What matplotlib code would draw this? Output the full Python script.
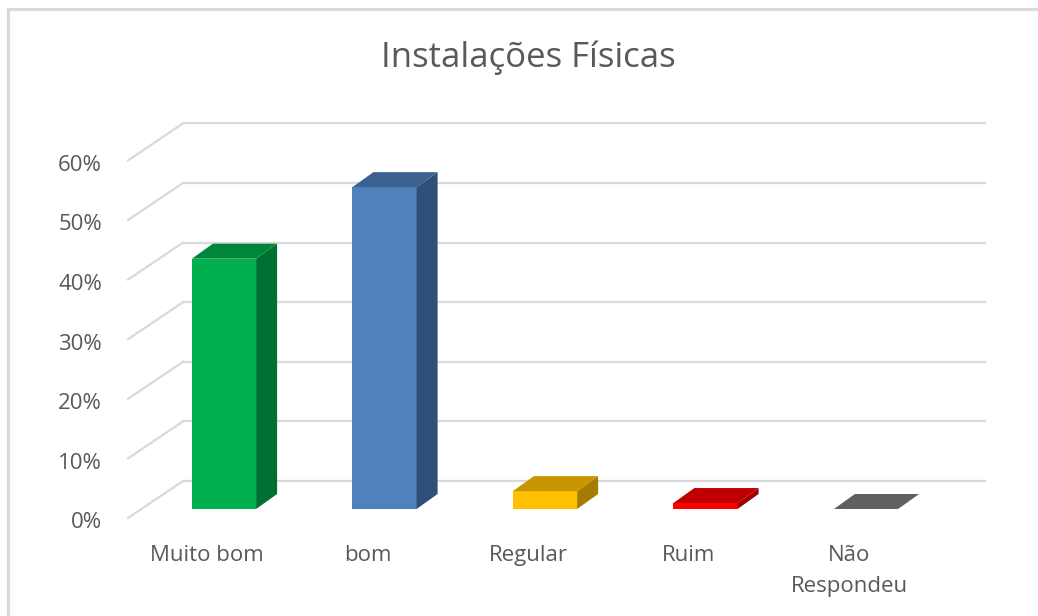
import matplotlib.pyplot as plt
from matplotlib.patches import Polygon, Rectangle
import numpy as np

categories = ["Muito bom", "bom", "Regular", "Ruim", "Não\nRespondeu"]
values = [0.42, 0.54, 0.03, 0.01, 0.0]
yticks = [0.0, 0.1, 0.2, 0.3, 0.4, 0.5, 0.6]
ytick_labels = ["0%", "10%", "20%", "30%", "40%", "50%", "60%"]
title = "Instalações Físicas"

front_cols = ["#00b050", "#4f81bd", "#ffc000", "#ff0000", "#606060"]
top_cols = ["#00853a", "#3b6190", "#c89600", "#c00000", "#606060"]
side_cols = ["#007032", "#2f4f78", "#a67c00", "#a00000", "#505050"]

W, H = 1038, 616
fig = plt.figure(figsize=(W / 100, H / 100), dpi=100)
ax = fig.add_axes([0, 0, 1, 1])
ax.axis("off")

# bar plane: x centre 0 at px 224, 160.5 px per category; y 0 at px 509 (from top), 596 px per 1.0
x0, xs = 224, 160.5
y0, ys = 509, 596
ax.set_xlim(-x0 / xs, (W - x0) / xs)
ax.set_ylim(-(H - y0) / ys, y0 / ys)
px = 1 / xs   # data units per pixel
py = 1 / ys

txt = "#595959"
grid = "#d9d9d9"

# chart border
fig.patches.append(Rectangle((8 / W, -0.1), 1.2, (H - 9) / H + 0.1, transform=fig.transFigure,
                             fill=False, edgecolor=grid, linewidth=2.2))

# walls: back offset (+42, up 28 px), front floor edge offset (-13, down 9 px)
wall_x = -0.517
back_dx, back_dy = 42 * px, 28 * py
front_dx, front_dy = -13 * px, -9 * py
x_end = 4.48
for v, lab in zip(yticks, ytick_labels):
    ax.plot([wall_x + back_dx, x_end + back_dx], [v + back_dy, v + back_dy], color=grid, lw=1.6, zorder=1)
    ax.plot([wall_x + front_dx, wall_x + back_dx], [v + front_dy, v + back_dy], color=grid, lw=1.6, zorder=1)
    ax.text(wall_x + front_dx - 26 * px, v + front_dy - 5 * py, lab, ha="right", va="center",
            fontsize=16, color=txt, family="Open Sans")

# bars
w = 0.4
ddx, ddy = 21 * px, 15 * py
xpos = np.arange(len(categories))
for i, (x, v) in enumerate(zip(xpos, values)):
    l, r = x - w / 2, x + w / 2
    if v > 0:
        ax.bar(x, v, width=w, color=front_cols[i], zorder=3)
        ax.add_patch(Polygon([(r, 0), (r + ddx, ddy), (r + ddx, v + ddy), (r, v)],
                             closed=True, facecolor=side_cols[i], edgecolor="none", zorder=3))
    ax.add_patch(Polygon([(l, v), (r, v), (r + ddx, v + ddy), (l + ddx, v + ddy)],
                         closed=True, facecolor=top_cols[i], edgecolor="none", zorder=3))

# category labels
for x, lab in zip(xpos, categories):
    ax.text(x - 17 * px, -36 * py, lab, ha="center", va="top", fontsize=16, color=txt,
            family="Open Sans", linespacing=1.6)

ax.text(528 / xs - x0 / xs, (y0 - 58) / ys, title, ha="center", va="center", fontsize=25,
        color=txt, family="Open Sans")

fig.savefig("out.png", dpi=100)
